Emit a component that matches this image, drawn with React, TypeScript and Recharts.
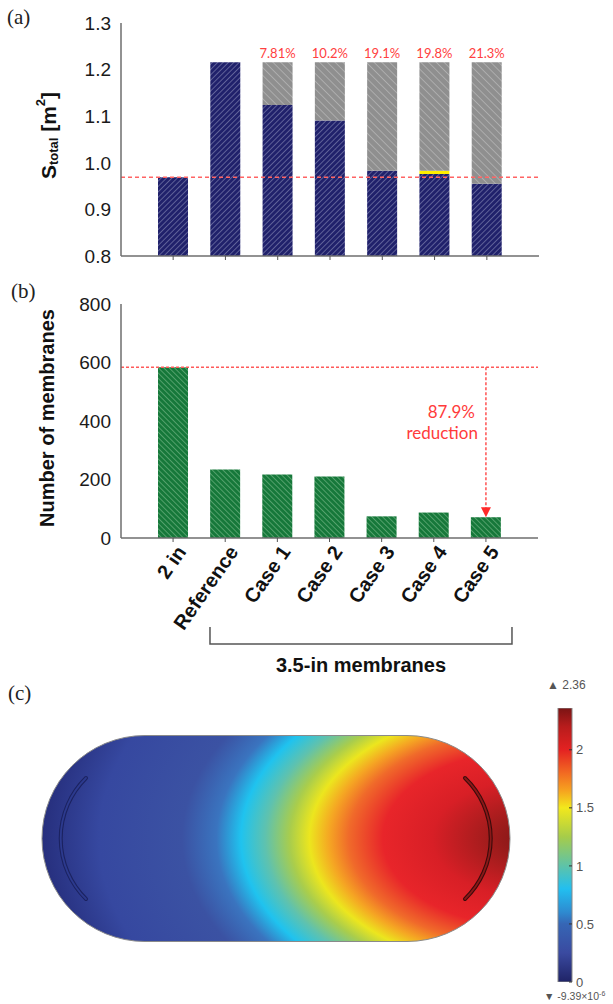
import React from "react";
import { Bar, BarChart, Label, LabelList, ReferenceLine, XAxis, YAxis } from "recharts";

const FONT = '"Liberation Sans", Arial, sans-serif';
const NOTE_FONT = 'Lato, "Open Sans", sans-serif';
const SERIF = '"Liberation Serif", "DejaVu Serif", serif';

// categories shared by panels (a) and (b)
const categories = ["2 in", "Reference", "Case 1", "Case 2", "Case 3", "Case 4", "Case 5"];

// panel (a): total membrane area [m2]
const areaValues = [0.969, 1.216, 1.124, 1.091, 0.983, 0.976, 0.955];
const bufferTop = [null, null, null, null, null, 0.983, null];
const referenceTotal = [null, null, 1.216, 1.216, 1.216, 1.216, 1.216];
const savingLabels = [null, null, "7.81%", "10.2%", "19.1%", "19.8%", "21.3%"];
const areaTicks = [0.8, 0.9, 1.0, 1.1, 1.2, 1.3];
const areaBaseline = 0.969;

// panel (b): number of membranes
const membraneCounts = [584, 234, 217, 210, 74, 87, 71];
const countTicks = [0, 200, 400, 600, 800];
const countBaseline = 584;
const reductionNote = ["87.9%", "reduction"];
const groupLabel = "3.5-in membranes";

// panel (c): colour bar
const colorMax = 2.36;
const colorTicks = [0, 0.5, 1, 1.5, 2];
const colorMaxLabel = "2.36";

const areaData = categories.map((name, i) => ({
  name,
  area: areaValues[i],
  buffer: bufferTop[i] != null ? [areaValues[i], bufferTop[i]] : null,
  saved: referenceTotal[i] != null ? [bufferTop[i] ?? areaValues[i], referenceTotal[i]] : null,
  pct: savingLabels[i],
}));

const countData = categories.map((name, i) => ({ name, count: membraneCounts[i] }));

const FRAME = "#6e6e6e";
const PAD = { left: 26, right: 26 };

function Hatch({ id, bg, line, size, angle }: { id: string; bg: string; line: string; size: number; angle: number }) {
  return (
    <pattern id={id} width={size} height={size} patternUnits="userSpaceOnUse" patternTransform={`rotate(${angle})`}>
      <rect width={size} height={size} fill={bg} />
      <line x1={0} y1={0} x2={0} y2={size} stroke={line} strokeWidth={1} />
    </pattern>
  );
}

function AreaAxisLabel({ viewBox }: any) {
  const cx = 48;
  const cy = viewBox.y + viewBox.height / 2 - 4;
  return (
    <text
      x={cx}
      y={cy}
      transform={`rotate(-90, ${cx}, ${cy})`}
      textAnchor="middle"
      dominantBaseline="central"
      fontFamily={FONT}
      fontWeight={700}
      fill="#111">
      <tspan fontSize={21}>S</tspan>
      <tspan fontSize={13} dy={5}>total</tspan>
      <tspan fontSize={21} dy={-5}> [m</tspan>
      <tspan fontSize={13} dy={-8}>2</tspan>
      <tspan fontSize={21} dy={8}>]</tspan>
    </text>
  );
}

function CountAxisLabel({ viewBox }: any) {
  const cx = 47;
  const cy = viewBox.y + viewBox.height / 2 - 3;
  return (
    <text
      x={cx}
      y={cy}
      transform={`rotate(-90, ${cx}, ${cy})`}
      textAnchor="middle"
      dominantBaseline="central"
      fontFamily={FONT}
      fontWeight={700}
      fontSize={20}
      fill="#111">
      Number of membranes
    </text>
  );
}

function CaseTick({ x, y, payload }: any) {
  return (
    <g transform={`translate(${x + 14},${y + 8}) rotate(-55)`}>
      <text textAnchor="end" fontFamily={FONT} fontWeight={700} fontSize={20} fill="#111">
        {payload.value}
      </text>
    </g>
  );
}

function BracketLabel({ viewBox }: any) {
  const { x, y, width } = viewBox;
  const left = x + width * 0.2134;
  const right = x + width * 0.9376;
  const yb = y + 106;
  return (
    <g>
      <path d={`M${left},${yb - 17} V${yb} H${right} V${yb - 17}`} fill="none" stroke="#555" strokeWidth={1.5} />
      <text x={(left + right) / 2} y={y + 134} textAnchor="middle" fontFamily={FONT} fontWeight={700} fontSize={20} fill="#111">
        {groupLabel}
      </text>
    </g>
  );
}

function ReductionArrow(props: any) {
  const { x1, y1, x2, y2 } = props;
  return (
    <g>
      <line x1={x1} y1={y1} x2={x2} y2={y2 - 9} stroke="#ff5252" strokeWidth={1.5} strokeDasharray="3 2" />
      <path d={`M${x2 - 5},${y2 - 10} L${x2 + 5},${y2 - 10} L${x2},${y2} Z`} fill="#ff2a2a" />
      <text x={x1 - 11} y={y1 + 51} textAnchor="end" fontFamily={NOTE_FONT} fontSize={17} fill="#ff3b3b">
        {reductionNote[0]}
      </text>
      <text x={x1 - 8} y={y1 + 72} textAnchor="end" fontFamily={NOTE_FONT} fontSize={17} fill="#ff3b3b">
        {reductionNote[1]}
      </text>
    </g>
  );
}

function AreaChartPanel() {
  return (
    <BarChart width={613} height={270} data={areaData} margin={{ top: 23, right: 74, bottom: 4, left: 0 }}>
      <defs>
        <Hatch id="hatchNavy" bg="#20216b" line="#9a9dc4" size={3.8} angle={45} />
        <Hatch id="hatchGray" bg="#8f8f8f" line="#c9c9c9" size={5.5} angle={-45} />
      </defs>
      <XAxis
        dataKey="name"
        padding={PAD}
        height={10}
        tickFormatter={() => ""}
        tickSize={4}
        tickLine={{ stroke: "#555" }}
        axisLine={{ stroke: FRAME, strokeWidth: 1.5 }}
      />
      <XAxis xAxisId="y" dataKey="name" padding={PAD} hide />
      <XAxis xAxisId="g" dataKey="name" padding={PAD} hide />
      <XAxis xAxisId="top" orientation="top" dataKey="name" height={0} tick={false} tickLine={false} axisLine={{ stroke: FRAME, strokeWidth: 1.5 }} />
      <YAxis
        width={121}
        domain={[0.8, 1.3]}
        ticks={areaTicks}
        tickFormatter={(v: number) => v.toFixed(1)}
        tickLine={false}
        tickMargin={4}
        tick={{ fontSize: 19, fill: "#1a1a1a", fontFamily: FONT }}
        axisLine={{ stroke: FRAME, strokeWidth: 1.5 }}
        allowDataOverflow>
        <Label content={<AreaAxisLabel />} />
      </YAxis>
      <YAxis yAxisId="r" orientation="right" width={0} tick={false} tickLine={false} axisLine={{ stroke: FRAME, strokeWidth: 1.5 }} />
      <Bar dataKey="area" barSize={30} fill="url(#hatchNavy)" isAnimationActive={false} />
      <Bar dataKey="buffer" xAxisId="y" barSize={30} fill="#ffee00" isAnimationActive={false} />
      <Bar dataKey="saved" xAxisId="g" barSize={30} fill="url(#hatchGray)" isAnimationActive={false}>
        <LabelList dataKey="pct" position="top" offset={4} fill="#ff4040" fontSize={13} fontFamily={NOTE_FONT} />
      </Bar>
      <ReferenceLine y={areaBaseline} stroke="#ff6464" strokeWidth={1.5} strokeDasharray="4 3" />
    </BarChart>
  );
}

function CountChartPanel() {
  return (
    <BarChart width={613} height={400} data={countData} margin={{ top: 24, right: 75, bottom: 8, left: 0 }}>
      <defs>
        <Hatch id="hatchGreen" bg="#16783a" line="#8fc89c" size={3.8} angle={-45} />
      </defs>
      <XAxis
        dataKey="name"
        padding={PAD}
        height={134}
        interval={0}
        tick={<CaseTick />}
        tickSize={4}
        tickLine={{ stroke: "#555" }}
        axisLine={{ stroke: FRAME, strokeWidth: 1.5 }}>
        <Label content={<BracketLabel />} />
      </XAxis>
      <XAxis xAxisId="top" orientation="top" dataKey="name" height={0} tick={false} tickLine={false} axisLine={{ stroke: FRAME, strokeWidth: 1.5 }} />
      <YAxis
        width={121}
        domain={[0, 800]}
        ticks={countTicks}
        tickLine={false}
        tickMargin={4}
        tick={{ fontSize: 19, fill: "#1a1a1a", fontFamily: FONT }}
        axisLine={{ stroke: FRAME, strokeWidth: 1.5 }}>
        <Label content={<CountAxisLabel />} />
      </YAxis>
      <YAxis yAxisId="r" orientation="right" width={0} tick={false} tickLine={false} axisLine={{ stroke: FRAME, strokeWidth: 1.5 }} />
      <Bar dataKey="count" barSize={30} fill="url(#hatchGreen)" isAnimationActive={false} />
      <ReferenceLine y={countBaseline} stroke="#ff5a5a" strokeWidth={1.5} strokeDasharray="3 2" />
      <ReferenceLine
        segment={[
          { x: categories[6], y: countBaseline },
          { x: categories[6], y: membraneCounts[6] },
        ]}
        shape={ReductionArrow}
      />
    </BarChart>
  );
}

function ColorBarPanel() {
  return (
    <BarChart
      width={613}
      height={324}
      data={[{ name: "u", value: colorMax }]}
      margin={{ top: 28, right: 0, bottom: 22, left: 558 }}
      barCategoryGap={0}>
      <defs>
        <linearGradient id="jetBar" x1="0" y1="0" x2="0" y2="1">
          <stop offset={0} stopColor="#7a1414" />
          <stop offset={0.068} stopColor="#b81c1c" />
          <stop offset={0.153} stopColor="#e42222" />
          <stop offset={0.237} stopColor="#f26a22" />
          <stop offset={0.301} stopColor="#f6a21f" />
          <stop offset={0.364} stopColor="#f2e81c" />
          <stop offset={0.47} stopColor="#a6cc4a" />
          <stop offset={0.576} stopColor="#5ec3a8" />
          <stop offset={0.66} stopColor="#22bff0" />
          <stop offset={0.746} stopColor="#2e8ad0" />
          <stop offset={0.788} stopColor="#3666b5" />
          <stop offset={0.894} stopColor="#3a4aa0" />
          <stop offset={1} stopColor="#1f2366" />
        </linearGradient>
      </defs>
      <XAxis dataKey="name" hide />
      <YAxis
        orientation="right"
        width={41}
        domain={[0, colorMax]}
        ticks={colorTicks}
        tickSize={-3}
        tickMargin={7}
        tickLine={{ stroke: "#333" }}
        axisLine={false}
        tick={{ fontSize: 13, fill: "#555", fontFamily: FONT, textAnchor: "start" }}
        allowDataOverflow
      />
      <Bar dataKey="value" fill="url(#jetBar)" stroke="#888" strokeWidth={1} isAnimationActive={false} />
    </BarChart>
  );
}

function FieldMap() {
  return (
    <svg width={613} height={1004} style={{ position: "absolute", left: 0, top: 0 }}>
      <defs>
        <radialGradient
          id="fieldGrad"
          gradientUnits="userSpaceOnUse"
          cx={530}
          cy={838.5}
          r={490}
          gradientTransform="translate(530 838.5) scale(1 0.6) translate(-530 -838.5)">
          <stop offset={0} stopColor="#7e1616" />
          <stop offset={0.08} stopColor="#a01c1c" />
          <stop offset={0.2} stopColor="#d81f26" />
          <stop offset={0.3} stopColor="#e8252a" />
          <stop offset={0.37} stopColor="#f06a2a" />
          <stop offset={0.41} stopColor="#f5a623" />
          <stop offset={0.45} stopColor="#ece61e" />
          <stop offset={0.49} stopColor="#a9cd4c" />
          <stop offset={0.54} stopColor="#5fc2ae" />
          <stop offset={0.59} stopColor="#1fc3ef" />
          <stop offset={0.64} stopColor="#3a74bf" />
          <stop offset={0.71} stopColor="#3b52a3" />
          <stop offset={0.88} stopColor="#3648a0" />
          <stop offset={1} stopColor="#262e7c" />
        </radialGradient>
      </defs>
      <text x={7} y={24} fontFamily={SERIF} fontSize={21} fill="#222">(a)</text>
      <text x={11} y={298} fontFamily={SERIF} fontSize={21} fill="#222">(b)</text>
      <text x={8} y={700} fontFamily={SERIF} fontSize={21} fill="#222">(c)</text>
      <rect x={42} y={735.5} width={468} height={206} rx={103} fill="url(#fieldGrad)" stroke="#8a8a8a" strokeWidth={1} />
      <path d="M86,778 A85,85 0 0 0 86,899" fill="none" stroke="#1b2260" strokeWidth={4} strokeLinecap="round" />
      <path d="M86,778 A85,85 0 0 0 86,899" fill="none" stroke="#2c3a8e" strokeWidth={1.8} strokeLinecap="round" />
      <path d="M465,778 A84,84 0 0 1 465,899" fill="none" stroke="#3a0b0b" strokeWidth={4} strokeLinecap="round" />
      <path d="M465,778 A84,84 0 0 1 465,899" fill="none" stroke="#8a1818" strokeWidth={1.8} strokeLinecap="round" />
      <text x={547} y={689} fontFamily={FONT} fontSize={12} fill="#555">▲ {colorMaxLabel}</text>
      <text x={544} y={1000} fontFamily={FONT} fontSize={10.5} fill="#555">
        ▼ -9.39×10<tspan dy={-4} fontSize={7}>-6</tspan>
      </text>
    </svg>
  );
}

export default function App() {
  return (
    <div style={{ position: "absolute", left: 0, top: 0, width: 613, height: 1004, background: "#fff" }}>
      <FieldMap />
      <div style={{ position: "absolute", left: 0, top: 0 }}>
        <AreaChartPanel />
      </div>
      <div style={{ position: "absolute", left: 0, top: 280 }}>
        <CountChartPanel />
      </div>
      <div style={{ position: "absolute", left: 0, top: 680 }}>
        <ColorBarPanel />
      </div>
    </div>
  );
}
